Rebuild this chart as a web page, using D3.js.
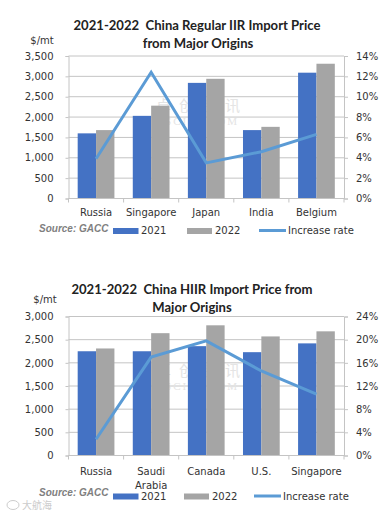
<!DOCTYPE html>
<html>
<head>
<meta charset="utf-8">
<script src="https://cdn.jsdelivr.net/npm/d3@7"></script>
<style>
  html, body { margin: 0; padding: 0; background: #fff; }
  text { font-family: Lato, "Open Sans", sans-serif; fill: #333; white-space: pre; }
  .small { font-family: "DejaVu Sans"; }
</style>
</head>
<body>
<svg id="chart" width="390" height="516"></svg>
<script>
// first chart: regular IIR
const iirOrigins = ["Russia", "Singapore", "Japan", "India", "Belgium"];
const iir2021 = [1600, 2030, 2840, 1680, 3090];
const iir2022 = [1680, 2280, 2940, 1760, 3310];
const iirRate = [3.9, 12.4, 3.5, 4.6, 6.3];
const iirPriceTicks = [0, 500, 1000, 1500, 2000, 2500, 3000, 3500];
const iirRateTicks = [0, 2, 4, 6, 8, 10, 12, 14];

// second chart: HIIR
const hiirOrigins = ["Russia", "Saudi Arabia", "Canada", "U.S.", "Singapore"];
const hiir2021 = [2250, 2250, 2360, 2230, 2420];
const hiir2022 = [2310, 2640, 2810, 2570, 2680];
const hiirRate = [2.8, 17, 19.8, 14.6, 10.6];
const hiirPriceTicks = [0, 500, 1000, 1500, 2000, 2500, 3000];
const hiirRateTicks = [0, 4, 8, 12, 16, 20, 24];

const blue = "#4472c4", grey = "#a5a5a5", lineBlue = "#5b9bd5", axisGrey = "#c4c4c4";
const svg = d3.select("#chart");

function drawPanel(o) {
  const g = svg.append("g");
  const x = d3.scaleBand().domain(o.origins).range([68.5, 344]);
  const y = d3.scaleLinear().domain([0, d3.max(o.priceTicks)]).range([o.bottom, o.top]);
  const yR = d3.scaleLinear().domain([0, d3.max(o.rateTicks)]).range([o.bottom, o.top]);
  const x1 = d3.scaleBand().domain(["a", "b"]).range([0, x.bandwidth()]).paddingOuter(0.5).paddingInner(0);

  // gridlines
  g.append("g")
    .selectAll("line")
    .data(o.priceTicks.filter((d) => d > 0))
    .join("line")
    .attr("x1", 68.5)
    .attr("x2", 344)
    .attr("y1", (d) => y(d))
    .attr("y2", (d) => y(d))
    .attr("stroke", axisGrey);

  // watermark sits behind the bars
  g.append("text")
    .attr("x", 202)
    .attr("y", o.markY)
    .attr("text-anchor", "middle")
    .attr("font-size", 15)
    .attr("letter-spacing", 8)
    .style("font-family", "'Noto Sans CJK SC'")
    .style("fill", "#e4e4e4")
    .text("卓创资讯");
  g.append("text")
    .attr("x", 202)
    .attr("y", o.markY + 14)
    .attr("text-anchor", "middle")
    .attr("font-size", 11)
    .attr("letter-spacing", 2)
    .style("font-family", "'Liberation Serif'")
    .style("fill", "#e4e4e4")
    .text("SCI99.COM");

  [["a", o.s2021, blue], ["b", o.s2022, grey]].forEach(([k, vals, col]) => {
    g.append("g")
      .selectAll("rect")
      .data(vals)
      .join("rect")
      .attr("x", (d, i) => x(o.origins[i]) + x1(k))
      .attr("y", (d) => y(d))
      .attr("width", x1.bandwidth())
      .attr("height", (d) => y(0) - y(d))
      .attr("fill", col);
  });

  const line = d3
    .line()
    .x((d, i) => x(o.origins[i]) + x.bandwidth() / 2)
    .y((d) => yR(d));
  g.append("path")
    .attr("d", line(o.rate))
    .attr("fill", "none")
    .attr("stroke", lineBlue)
    .attr("stroke-width", 3);

  // axes
  const axL = g.append("g")
    .attr("transform", "translate(68.5,0)")
    .call(d3.axisLeft(y).tickValues(o.priceTicks).tickSize(3).tickFormat(d3.format(",")));
  const axR = g.append("g")
    .attr("transform", "translate(344,0)")
    .call(d3.axisRight(yR).tickValues(o.rateTicks).tickSize(4).tickFormat((d) => d + "%"));
  axL.selectAll("text").attr("x", -15);
  axR.selectAll("text").attr("x", 12);
  g.selectAll(".domain, .tick line").attr("stroke", axisGrey);
  g.selectAll(".tick text").style("font-family", "'DejaVu Sans'").style("fill", "#333").attr("font-size", 10);

  // bottom axis has ticks between categories
  const bx = g.append("g").attr("transform", `translate(0,${o.bottom})`);
  bx.append("line").attr("x1", 68.5).attr("x2", 344).attr("stroke", axisGrey);
  bx.selectAll(".sep")
    .data(d3.range(o.origins.length + 1))
    .join("line")
    .attr("x1", (i) => 68.5 + i * x.step())
    .attr("x2", (i) => 68.5 + i * x.step())
    .attr("y2", 4)
    .attr("stroke", axisGrey);

  o.origins.forEach((name, i) => {
    const words = o.wrap.includes(name) ? name.split(" ") : [name];
    words.forEach((w, j) => {
      bx.append("text")
        .attr("class", "small")
        .attr("x", x(name) + x.bandwidth() / 2)
        .attr("y", o.catDy + j * 14)
        .attr("text-anchor", "middle")
        .attr("font-size", 10)
        .text(w);
    });
  });

  // title and unit
  o.title.forEach((t) => {
    g.append("text")
      .attr("x", t.x)
      .attr("y", t.y)
      .attr("text-anchor", "middle")
      .attr("font-size", 13.1)
      .attr("font-weight", 700)
      .style("fill", "#222")
      .text(t.text);
  });
  g.append("text")
    .attr("class", "small")
    .attr("x", o.unitX)
    .attr("y", o.unitY)
    .attr("text-anchor", "middle")
    .attr("font-size", 10)
    .text("$/mt");

  // source and legend
  const ly = o.legendY;
  g.append("text")
    .attr("x", 39)
    .attr("y", o.sourceY)
    .style("font-family", "'Liberation Sans'")
    .style("fill", "#7f7f7f")
    .attr("font-size", 10)
    .attr("font-weight", 700)
    .attr("font-style", "italic")
    .text("Source: GACC");
  g.append("rect").attr("x", 113).attr("y", ly - 6).attr("width", 25.5).attr("height", 6).attr("fill", blue);
  g.append("text").attr("class", "small").attr("x", 141).attr("y", ly).attr("font-size", 10).text("2021");
  g.append("rect").attr("x", o.leg[0]).attr("y", ly - 6).attr("width", 25).attr("height", 6).attr("fill", grey);
  g.append("text").attr("class", "small").attr("x", o.leg[0] + 28).attr("y", ly).attr("font-size", 10).text("2022");
  g.append("line").attr("x1", o.leg[1]).attr("x2", o.leg[1] + 27).attr("y1", ly - 3.5).attr("y2", ly - 3.5).attr("stroke", lineBlue).attr("stroke-width", 3);
  g.append("text").attr("class", "small").attr("x", o.leg[1] + 29).attr("y", ly).attr("font-size", 10).text("Increase rate");
}

drawPanel({
  origins: iirOrigins, s2021: iir2021, s2022: iir2022, rate: iirRate,
  priceTicks: iirPriceTicks, rateTicks: iirRateTicks,
  top: 56, bottom: 198.5, catDy: 17.5, wrap: [], markY: 111,
  title: [
    { text: "2021-2022  China Regular IIR Import Price", x: 197, y: 30 },
    { text: "from Major Origins", x: 198, y: 48 },
  ],
  unitX: 42, unitY: 44, legendY: 234, sourceY: 231.5, leg: [187, 259],
});

drawPanel({
  origins: hiirOrigins, s2021: hiir2021, s2022: hiir2022, rate: hiirRate,
  priceTicks: hiirPriceTicks, rateTicks: hiirRateTicks,
  top: 316.5, bottom: 455.5, catDy: 19.5, wrap: ["Saudi Arabia"], markY: 376,
  title: [
    { text: "2021-2022  China HIIR Import Price from", x: 192, y: 294 },
    { text: "Major Origins", x: 192, y: 312 },
  ],
  unitX: 45, unitY: 303, legendY: 499.5, sourceY: 495.5, leg: [184, 254],
});

// faint corner logo
svg.append("ellipse")
  .attr("cx", 13)
  .attr("cy", 505)
  .attr("rx", 6)
  .attr("ry", 4.5)
  .attr("fill", "none")
  .attr("stroke", "#ccc");
svg.append("text")
  .attr("x", 22)
  .attr("y", 509)
  .attr("font-size", 10)
  .style("font-family", "'Noto Sans CJK SC'")
  .style("fill", "#ccc")
  .text("大航海");
</script>
</body>
</html>
